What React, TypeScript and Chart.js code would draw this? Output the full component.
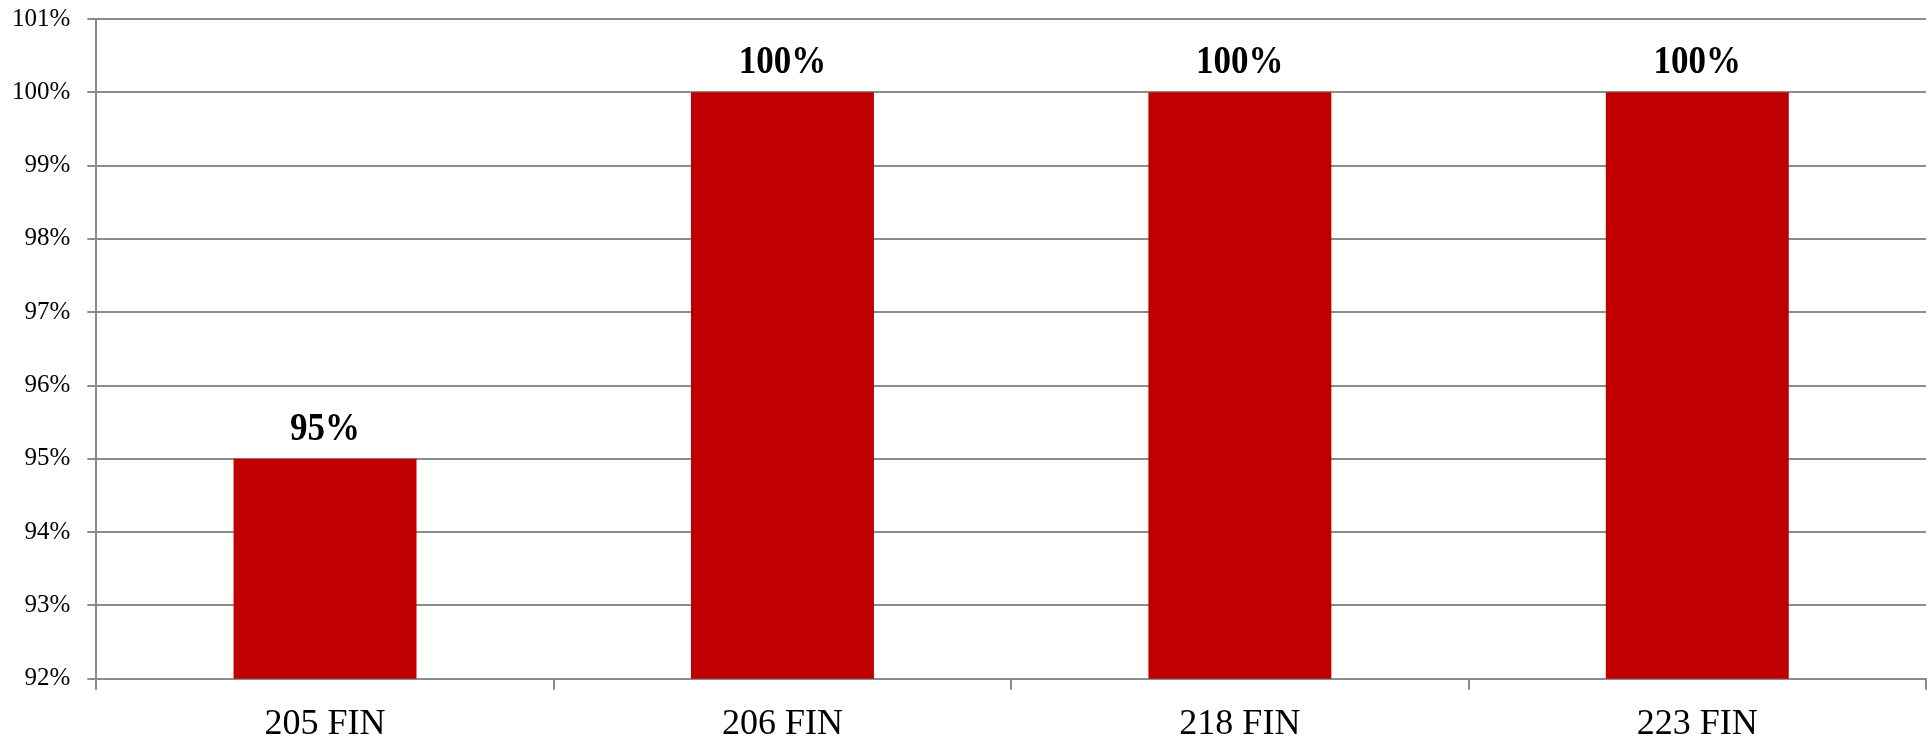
import React, { useEffect, useRef } from "react";
import { Chart, registerables } from "chart.js";

Chart.register(...registerables);

const categories = ["205 FIN", "206 FIN", "218 FIN", "223 FIN"];
const values = [95, 100, 100, 100];
const yMin = 92;
const yMax = 101;
const yStep = 1;

const FONT = "'Liberation Serif', 'Times New Roman', serif";
const GRID = "#8c8c8c";
const BAR = "#C00000";

const CANVAS_W = 1949;
const CANVAS_H = 772;

const dataLabelPlugin = {
  id: "dataLabels",
  afterDatasetsDraw(chart: any) {
    const ctx = chart.ctx;
    const meta = chart.getDatasetMeta(0);
    meta.data.forEach((bar: any, i: number) => {
      ctx.save();
      ctx.font = `bold 35px ${FONT}`;
      ctx.fillStyle = "#000";
      ctx.textAlign = "center";
      ctx.textBaseline = "alphabetic";
      ctx.translate(bar.x, bar.y - 19);
      ctx.scale(1, 1.12);
      ctx.fillText(`${values[i]}%`, 0, 0);
      ctx.restore();
    });
  },
};

export default function App() {
  const ref = useRef<HTMLCanvasElement>(null);
  useEffect(() => {
    if (!ref.current) return;
    const chart = new Chart(ref.current, {
      type: "bar",
      data: {
        labels: categories,
        datasets: [
          {
            data: values,
            backgroundColor: BAR,
            borderWidth: 0,
            categoryPercentage: 0.4,
            barPercentage: 1,
          },
        ],
      },
      options: {
        responsive: false,
        animation: false,
        devicePixelRatio: 1,
        layout: { padding: { left: 12, right: 6, top: 2, bottom: 0 } },
        plugins: {
          legend: { display: false },
          tooltip: { enabled: false },
        },
        scales: {
          x: {
            grid: {
              offset: true,
              drawOnChartArea: false,
              drawTicks: true,
              tickLength: 11,
              color: GRID,
              lineWidth: 2,
            },
            border: { color: GRID, width: 2 },
            ticks: {
              color: "#000",
              font: { family: FONT, size: 36 },
              padding: 13,
              maxRotation: 0,
              autoSkip: false,
            },
          },
          y: {
            min: yMin,
            max: yMax,
            grid: {
              color: GRID,
              lineWidth: 2,
              drawTicks: true,
              tickLength: 9,
            },
            border: { color: GRID, width: 2 },
            ticks: {
              stepSize: yStep,
              color: "#000",
              font: { family: FONT, size: 25 },
              padding: 17,
              callback: (v: any) => `${v}%`,
            },
          },
        },
      },
      plugins: [dataLabelPlugin],
    });
    return () => chart.destroy();
  }, []);
  return (
    <div style={{ position: "fixed", left: 0, top: 0, width: 1932, height: 740, overflow: "hidden", background: "#fff" }}>
      <div style={{ position: "absolute", left: -17, top: -13, width: CANVAS_W, height: CANVAS_H }}>
        <canvas ref={ref} width={CANVAS_W} height={CANVAS_H} style={{ display: "block" }} />
      </div>
    </div>
  );
}
